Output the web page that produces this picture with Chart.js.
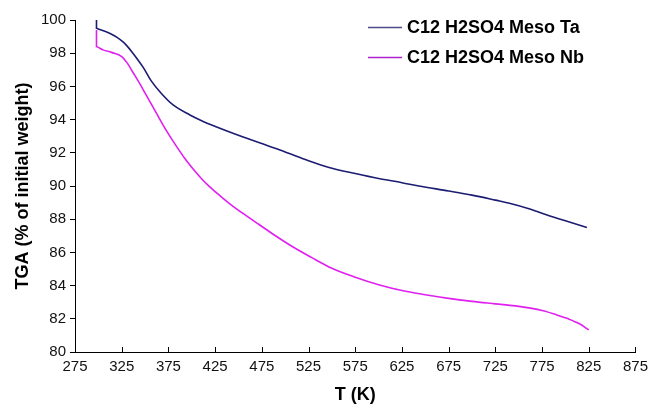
<!DOCTYPE html>
<html>
<head>
<meta charset="utf-8">
<script src="https://cdn.jsdelivr.net/npm/chart.js@4.4.1/dist/chart.umd.min.js"></script>
<style>
  html, body { margin: 0; padding: 0; background: #fff; }
  #wrap { width: 654px; height: 408px; }
</style>
</head>
<body>
<div id="wrap"><canvas id="tga" width="654" height="408"></canvas></div>
<script>
// values
const taLabel = 'C12 H2SO4 Meso Ta';
const taT = [298, 298, 300, 312, 320, 327, 332, 337, 343, 348, 357, 367, 380, 398, 410, 426, 455, 480, 500, 525, 547, 575, 600, 625, 643, 675, 700, 725, 741, 760, 778, 800, 823];
const taW = [100.0, 99.5, 99.46, 99.2, 98.95, 98.65, 98.35, 98.0, 97.55, 97.15, 96.3, 95.6, 94.88, 94.28, 93.95, 93.57, 92.95, 92.45, 92.05, 91.52, 91.12, 90.75, 90.45, 90.2, 90.0, 89.7, 89.45, 89.15, 88.95, 88.65, 88.3, 87.9, 87.5];

const nbLabel = 'C12 H2SO4 Meso Nb';
const nbT = [298, 298, 300, 305, 314, 325, 331, 337, 344, 351, 357, 362, 369, 376, 384, 392, 401, 410, 419, 430, 440, 456, 472, 490, 508, 528, 550, 575, 600, 625, 650, 675, 700, 725, 750, 775, 790, 803, 815, 825];
const nbW = [99.4, 98.4, 98.35, 98.2, 98.05, 97.8, 97.4, 96.85, 96.2, 95.5, 94.9, 94.4, 93.7, 93.05, 92.36, 91.7, 91.05, 90.47, 89.96, 89.42, 88.96, 88.3, 87.68, 86.99, 86.34, 85.7, 85.04, 84.5, 84.05, 83.7, 83.45, 83.23, 83.05, 82.9, 82.75, 82.5, 82.25, 82.0, 81.7, 81.33];

const xMin = 275, xMax = 875, xStep = 50;
const yMin = 80, yMax = 100, yStep = 2;

const FONT = '"Liberation Sans", Arial, sans-serif';

function toPoints(xs, ys) {
    return xs.map((x, i) => ({ x: x, y: ys[i] }));
}

// x ticks point up into the plot, like the original
const innerTicks = {
    id: 'innerTicks',
    afterDraw(chart) {
        const ctx = chart.ctx;
        const sx = chart.scales.x;
        ctx.save();
        ctx.strokeStyle = '#000';
        ctx.lineWidth = 1;
        sx.ticks.forEach((t) => {
            const px = Math.round(sx.getPixelForValue(t.value)) + 0.5;
            ctx.beginPath();
            ctx.moveTo(px, sx.top);
            ctx.lineTo(px, sx.top - 5);
            ctx.stroke();
        });
        ctx.restore();
    },
};

const sideLegend = {
    id: 'sideLegend',
    afterDraw(chart) {
        const ctx = chart.ctx;
        ctx.save();
        ctx.font = 'bold 18px ' + FONT;
        ctx.textBaseline = 'middle';
        chart.data.datasets.forEach((ds, i) => {
            const y = 27 + i * 30;
            ctx.strokeStyle = ds.legendColor;
            ctx.lineWidth = 1.5;
            ctx.beginPath();
            ctx.moveTo(368, y + 0.5);
            ctx.lineTo(402, y + 0.5);
            ctx.stroke();
            ctx.fillStyle = '#000';
            ctx.fillText(ds.label, 407, y + 1);
        });
        ctx.restore();
    },
};

new Chart(document.getElementById('tga'), {
    type: 'scatter',
    data: {
        datasets: [
            {
                label: taLabel,
                data: toPoints(taT, taW),
                showLine: true,
                borderColor: '#1c1c72',
                legendColor: '#4a4a8c',
                borderWidth: 1.6,
                pointRadius: 0,
                cubicInterpolationMode: 'monotone',
                order: 1,
            },
            {
                label: nbLabel,
                data: toPoints(nbT, nbW),
                showLine: true,
                borderColor: '#e020f0',
                legendColor: '#b020d0',
                borderWidth: 1.6,
                pointRadius: 0,
                cubicInterpolationMode: 'monotone',
                order: 2,
            },
        ],
    },
    options: {
        responsive: false,
        animation: false,
        layout: { padding: { top: 20, right: 17, bottom: 0, left: 0 } },
        plugins: {
            legend: { display: false },
            tooltip: { enabled: false },
        },
        scales: {
            x: {
                type: 'linear',
                min: xMin,
                max: xMax,
                afterFit: (s) => { s.height = 56; },
                ticks: {
                    stepSize: xStep,
                    color: '#111',
                    padding: 6,
                    maxRotation: 0,
                    font: { family: FONT, size: 15 },
                },
                grid: { display: true, drawOnChartArea: false, drawTicks: false },
                border: { display: true, color: '#000', width: 1 },
                title: {
                    display: true,
                    text: 'T (K)',
                    color: '#000',
                    font: { family: FONT, size: 18, weight: 'bold' },
                    padding: { top: 0, bottom: 2 },
                },
            },
            y: {
                min: yMin,
                max: yMax,
                afterFit: (s) => { s.width = 75; },
                ticks: {
                    stepSize: yStep,
                    color: '#111',
                    padding: 4,
                    font: { family: FONT, size: 15 },
                },
                grid: { display: true, drawOnChartArea: false, drawTicks: true, tickLength: 5, color: '#000' },
                border: { display: true, color: '#000', width: 1 },
                title: {
                    display: true,
                    text: 'TGA (% of initial weight)',
                    color: '#000',
                    font: { family: FONT, size: 18, weight: 'bold' },
                    padding: { top: 12, bottom: 0 },
                },
            },
        },
    },
    plugins: [innerTicks, sideLegend],
});
</script>
</body>
</html>
